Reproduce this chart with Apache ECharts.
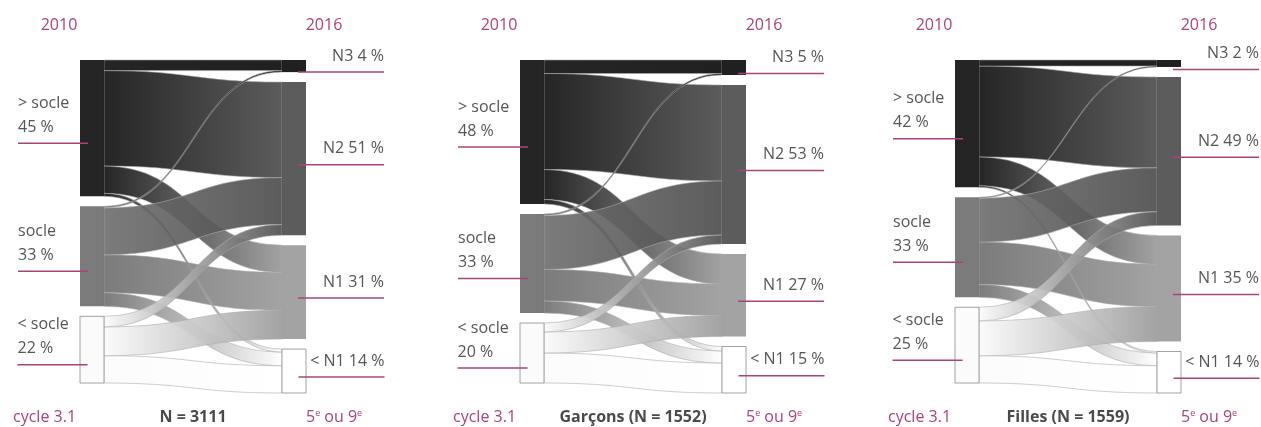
<!DOCTYPE html>
<html>
<head>
<meta charset="utf-8">
<script src="https://cdn.jsdelivr.net/npm/echarts@6/dist/echarts.min.js"></script>
<style>
  html, body { margin: 0; padding: 0; background: #fff; }
  #chart { width: 1261px; height: 427px; }
</style>
</head>
<body>
<div id="chart"></div>
<script>
// niveaux 2010 (gauche) et 2016 (droite)
const leftNames = ['> socle', 'socle', '< socle'];
const rightNames = ['N3', 'N2', 'N1', '< N1'];

// pourcentages affichés
const leftPctAll = [45, 33, 22];
const rightPctAll = [4, 51, 31, 14];
const leftPctBoys = [48, 33, 20];
const rightPctBoys = [5, 53, 27, 15];
const leftPctGirls = [42, 33, 25];
const rightPctGirls = [2, 49, 35, 14];

// flux en % : lignes = niveau 2010, colonnes = niveau 2016
const flowsAll = [[3.5, 31.5, 9, 1], [0.5, 15.5, 12.5, 4.5], [0, 3.5, 9.5, 9]];
const flowsBoys = [[4.5, 32, 10, 1.5], [0.5, 18, 10.5, 4], [0, 3, 7, 10]];
const flowsGirls = [[2, 30, 9.5, 0.5], [0.3, 14.5, 14, 4.2], [0, 4.5, 11.5, 9]];

const panelTitles = ['N = 3111', 'Garçons (N = 1552)', 'Filles (N = 1559)'];

const MAG = '#a8437f';
const TXT = '#555';
const FONT = '"Open Sans", sans-serif';

const leftColors = ['#121212', '#707070', '#fbfbfb'];
const rightColors = ['#0d0d0d', '#4e4e4e', '#9b9b9b', '#ffffff'];

// ordre de dessin des liens (les grandes bandes d'abord)
const drawOrder = [[0, 1], [1, 2], [2, 3], [0, 0], [0, 2], [1, 3], [0, 3], [1, 1], [2, 2], [2, 1], [1, 0]];

const panelLeft = [80, 520, 955];
const panelW = 226;

const nodeStyle = (color) => (
  color === '#ffffff' || color === '#fbfbfb'
    ? { color: color, borderColor: '#9a9a9a', borderWidth: 1 }
    : { color: color, borderWidth: 0 }
)

const leftLabel = (pct) => ({
  show: true,
  position: 'left',
  distance: -8,
  offset: [0, -9],
  formatter: (p) => `{t|${p.name}}\n{t|${pct} %}\n{u| }`,
  rich: {
    t: { fontSize: 16, lineHeight: 24, color: TXT, align: 'left', fontFamily: FONT },
    u: { width: 70, height: 1.5, lineHeight: 8, fontSize: 1, backgroundColor: MAG }
  }
})

const rightLabel = (pct) => ({
  show: true,
  position: 'right',
  distance: -8,
  offset: [0, -6],
  formatter: (p) => `{t|${p.name} ${pct} %}\n{u| }`,
  rich: {
    t: { fontSize: 16, lineHeight: 24, color: TXT, align: 'right', fontFamily: FONT },
    u: { width: 86, height: 1.5, lineHeight: 8, fontSize: 1, backgroundColor: MAG }
  }
})

const buildSeries = (idx, leftPct, rightPct, flows) => {
  const nodes = []
  leftNames.forEach((n, i) => {
    nodes.push({ name: n, depth: 0, itemStyle: nodeStyle(leftColors[i]), label: leftLabel(leftPct[i]) })
  })
  rightNames.forEach((n, j) => {
    nodes.push({ name: n, depth: 1, itemStyle: nodeStyle(rightColors[j]), label: rightLabel(rightPct[j]) })
  })
  const links = []
  drawOrder.forEach(([i, j]) => {
    if (flows[i][j] > 0) {
      links.push({ source: leftNames[i], target: rightNames[j], value: flows[i][j] })
    }
  })
  return {
    type: 'sankey',
    left: panelLeft[idx],
    top: 60,
    width: panelW,
    height: 333,
    nodeWidth: 24,
    nodeGap: 10,
    layoutIterations: 0,
    draggable: false,
    silent: true,
    emphasis: { disabled: true },
    itemStyle: { opacity: 0.92 },
    lineStyle: { color: 'gradient', curveness: 0.5, opacity: 0.92, borderColor: 'rgba(170,170,170,0.9)', borderWidth: 0.7 },
    data: nodes,
    links: links
  }
}

// textes autour de chaque panneau
const graphics = []
panelLeft.forEach((x, idx) => {
  graphics.push({ type: 'text', x: x - 21, y: 25, style: { text: '2010', font: `16px ${FONT}`, fill: MAG, align: 'center', verticalAlign: 'middle' } })
  graphics.push({ type: 'text', x: x + panelW + 18, y: 25, style: { text: '2016', font: `16px ${FONT}`, fill: MAG, align: 'center', verticalAlign: 'middle' } })
  graphics.push({ type: 'text', x: x - 67, y: 417, style: { text: 'cycle 3.1', font: `16px ${FONT}`, fill: MAG, align: 'left', verticalAlign: 'middle' } })
  graphics.push({ type: 'text', x: x + panelW / 2, y: 417, style: { text: panelTitles[idx], font: `bold 16px ${FONT}`, fill: '#4a4a4a', align: 'center', verticalAlign: 'middle' } })
  graphics.push({
    type: 'text', x: x + panelW, y: 417,
    style: {
      text: '5{s|e} ou 9{s|e}', font: `16px ${FONT}`, fill: MAG, align: 'left', verticalAlign: 'middle',
      rich: { s: { fontSize: 9, verticalAlign: 'top', fill: MAG, fontFamily: FONT, padding: [0, 0, 8, 0] } }
    }
  })
})

const chart = echarts.init(document.getElementById('chart'))
chart.setOption({
  animation: false,
  backgroundColor: '#fff',
  series: [
    buildSeries(0, leftPctAll, rightPctAll, flowsAll),
    buildSeries(1, leftPctBoys, rightPctBoys, flowsBoys),
    buildSeries(2, leftPctGirls, rightPctGirls, flowsGirls)
  ],
  graphic: graphics
})
</script>
</body>
</html>
